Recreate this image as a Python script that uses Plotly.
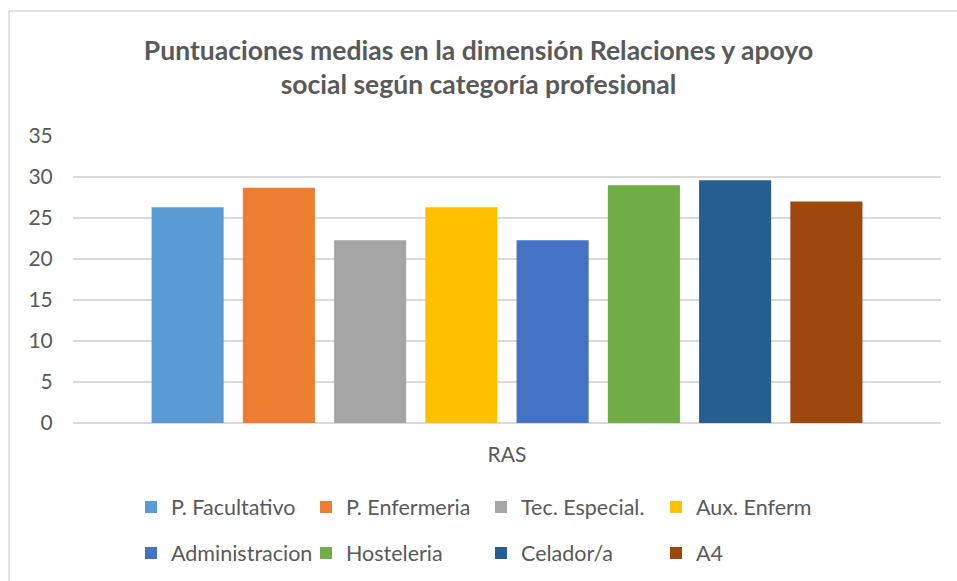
import plotly.graph_objects as go

categories = ["RAS"]
series_names = ["P. Facultativo", "P. Enfermeria", "Tec. Especial.", "Aux. Enferm",
                "Administracion", "Hosteleria", "Celador/a", "A4"]
series_values = [26.3, 28.7, 22.3, 26.3, 22.3, 29.0, 29.6, 27.0]
series_colors = ["#5B9BD5", "#ED7D31", "#A5A5A5", "#FFC000",
                 "#4472C4", "#70AD47", "#255E91", "#9E480E"]
y_ticks = [0, 5, 10, 15, 20, 25, 30, 35]
title_text = "Puntuaciones medias en la dimensión Relaciones y apoyo<br>social según categoría profesional"

FONT = "Lato"
TXT = "#595959"

fig = go.Figure()
for i, (name, val, col) in enumerate(zip(series_names, series_values, series_colors)):
    fig.add_trace(go.Bar(
        x=categories, y=[val], name=name,
        marker=dict(color=col, line=dict(width=0)),
        legend="legend" if i < 4 else "legend2",
    ))

W, H = 957, 581
L, R, T, B = 73, 16, 136, 158
pw, ph = W - L - R, H - T - B

def px_x(p):
    return (p - L) / pw

def px_y(p):
    return (H - B - p) / ph

legend_common = dict(
    orientation="h", xanchor="left", yanchor="middle",
    font=dict(family=FONT, size=21.5, color=TXT),
    entrywidth=130, entrywidthmode="pixels",
    bgcolor="rgba(0,0,0,0)", itemclick=False,
)

fig.update_layout(
    width=W, height=H,
    margin=dict(l=L, r=R, t=T, b=B, pad=0, autoexpand=False),
    paper_bgcolor="white", plot_bgcolor="white",
    title=dict(text=title_text, x=0.5, xref="container", xanchor="center",
               y=(H - 60) / H, yref="container", yanchor="middle",
               font=dict(family=FONT, size=26.5, color=TXT, weight="bold")),
    barmode="group", bargap=0.159, bargroupgap=0.21,
    xaxis=dict(showgrid=False, showline=False, zeroline=False,
               ticks="outside", ticklen=13, tickcolor="rgba(0,0,0,0)",
               tickfont=dict(family=FONT, size=21, color=TXT)),
    yaxis=dict(range=[0, 35], tickvals=y_ticks, showgrid=True, gridcolor="#D9D9D9",
               gridwidth=1.5, zeroline=True, zerolinecolor="#D9D9D9", zerolinewidth=1.5,
               showline=False, ticks="outside", ticklen=15, tickcolor="rgba(0,0,0,0)",
               tickfont=dict(family=FONT, size=21, color=TXT)),
    legend=dict(x=px_x(131), y=px_y(507), **legend_common),
    legend2=dict(x=px_x(131), y=px_y(553), **legend_common),
    shapes=[
        dict(type="line", xref="paper", yref="paper", x0=px_x(9), x1=px_x(960),
             y0=px_y(11), y1=px_y(11), line=dict(color="#D9D9D9", width=1.5)),
        dict(type="line", xref="paper", yref="paper", x0=px_x(9), x1=px_x(9),
             y0=px_y(11), y1=px_y(590), line=dict(color="#D9D9D9", width=1.5)),
    ],
)

fig.write_html("out.html", config={"displayModeBar": False},
               post_script="document.body.style.margin='0';document.body.style.overflow='hidden';")
